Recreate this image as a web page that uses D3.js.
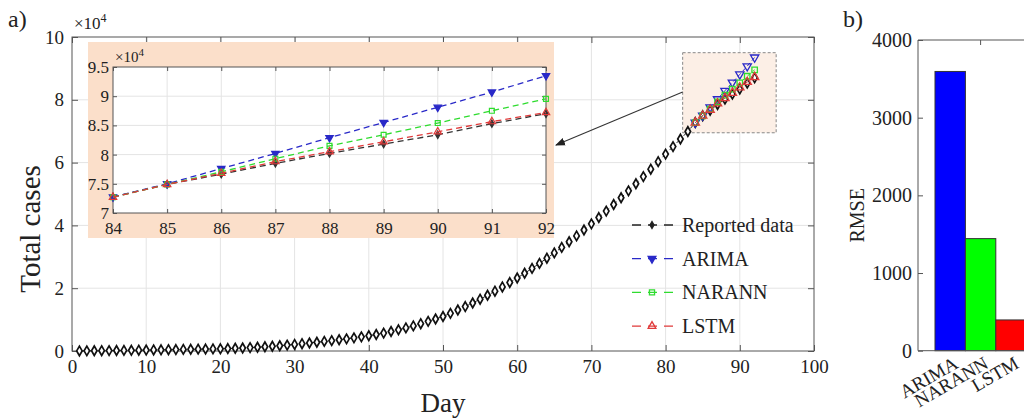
<!DOCTYPE html>
<html>
<head>
<meta charset="utf-8">
<script src="https://cdn.jsdelivr.net/npm/d3@7"></script>
<style>
  body { margin: 0; background: #fff; }
  text { font-family: "Liberation Serif", "Times New Roman", serif; fill: #222; }
</style>
</head>
<body>
<svg id="chart" width="1024" height="419"></svg>
<script>
// ---- data ----
const reportedCases = [
  20, 40, 70, 100, 130, 160, 190, 220, 260, 300,
  340, 380, 420, 460, 500, 540, 580, 620, 660, 700,
  780, 870, 970, 1080, 1200, 1340, 1500, 1680, 1880, 2100,
  2330, 2560, 2800, 3050, 3300, 3580, 3870, 4180, 4500, 4850,
  5250, 5700, 6200, 6750, 7350, 8000, 8700, 9450, 10200, 11000,
  12000, 13050, 14150, 15300, 16500, 17750, 19050, 20400, 21800, 23250,
  24750, 26300, 27900, 29550, 31250, 33000, 34800, 36650, 38550, 40500,
  42500, 44550, 46650, 48800, 51000, 53250, 55550, 57900, 60300, 62700,
  65100, 67500, 69900, 72750, 74900, 76650, 78500, 80200, 81800, 83400,
  85300, 87000
];
const forecastDays = [84, 85, 86, 87, 88, 89, 90, 91, 92];
const arimaCases  = [72750, 75000, 77600, 80200, 82900, 85500, 88100, 90700, 93500];
const narannCases = [72700, 74900, 77050, 79300, 81500, 83400, 85400, 87500, 89550];
const lstmCases   = [72700, 74900, 76800, 78800, 80500, 82200, 83900, 85650, 87200];

const xTicksMain = [0, 10, 20, 30, 40, 50, 60, 70, 80, 90, 100];
const yTicksMain = [0, 20000, 40000, 60000, 80000, 100000];
const xTicksInset = [84, 85, 86, 87, 88, 89, 90, 91, 92];
const yTicksInset = [70000, 75000, 80000, 85000, 90000, 95000];

const models = ["ARIMA", "NARANN", "LSTM"];
const rmse = [3595, 1443, 396];
const yTicksBar = [0, 1000, 2000, 3000, 4000];

// zoom window shown in the main panel (data units)
const zoomWindow = { d0: 82.3, d1: 94.9, v0: 69500, v1: 95000 };

const reported = reportedCases.map((v, i) => ({ day: i + 1, v }));
const series = [
  { name: "ARIMA",  color: "#2929c8", shape: "down",   values: arimaCases },
  { name: "NARANN", color: "#2fdc2f", shape: "square", values: narannCases },
  { name: "LSTM",   color: "#e03a3a", shape: "up",     values: lstmCases }
];

const svg = d3.select("#chart");
const serif = "Liberation Serif";
const gridColor = "#e4e4e4";
const axisColor = "#555";

function symbolPath(shape, size) {
  if (shape === "diamond") return d3.symbol(d3.symbolDiamond, size)();
  if (shape === "square") return d3.symbol(d3.symbolSquare, size)();
  return d3.symbol(d3.symbolTriangle, size)();
}
function symbolRotate(shape) { return shape === "down" ? " rotate(180)" : ""; }

// ---- main panel ----
const m = { left: 72, right: 814, top: 37, bottom: 351 };
const x = d3.scaleLinear().domain([0, 100]).range([m.left, m.right]);
const y = d3.scaleLinear().domain([0, 100000]).range([m.bottom, m.top]);

const main = svg.append("g");
main.append("rect").attr("x", m.left).attr("y", m.top)
  .attr("width", m.right - m.left).attr("height", m.bottom - m.top).attr("fill", "#fff");

// grid
main.append("g").selectAll("line").data(xTicksMain.slice(1, -1)).join("line")
  .attr("x1", d => x(d)).attr("x2", d => x(d)).attr("y1", m.top).attr("y2", m.bottom)
  .attr("stroke", gridColor);
main.append("g").selectAll("line").data(yTicksMain.slice(1, -1)).join("line")
  .attr("y1", d => y(d)).attr("y2", d => y(d)).attr("x1", m.left).attr("x2", m.right)
  .attr("stroke", gridColor);

function styleAxis(g) {
  g.attr("font-family", serif);
  g.select(".domain").remove();
  g.selectAll(".tick line").attr("stroke", axisColor);
  g.selectAll("text").attr("fill", "#222");
}

main.append("g").attr("transform", `translate(0,${m.bottom})`)
  .call(d3.axisBottom(x).tickValues(xTicksMain).tickSize(-6).tickPadding(9))
  .call(styleAxis).selectAll("text").style("font-size", "19px");
main.append("g").attr("transform", `translate(0,${m.top})`)
  .call(d3.axisTop(x).tickValues(xTicksMain).tickSize(-6).tickFormat(""))
  .call(styleAxis);
main.append("g").attr("transform", `translate(${m.left},0)`)
  .call(d3.axisLeft(y).tickValues(yTicksMain).tickSize(-6).tickPadding(8).tickFormat(d => d / 1e4))
  .call(styleAxis).selectAll("text").style("font-size", "19px");
main.append("g").attr("transform", `translate(${m.right},0)`)
  .call(d3.axisRight(y).tickValues(yTicksMain).tickSize(-6).tickFormat(""))
  .call(styleAxis);

main.append("rect").attr("x", m.left).attr("y", m.top)
  .attr("width", m.right - m.left).attr("height", m.bottom - m.top)
  .attr("fill", "none").attr("stroke", axisColor);

// exponent label
const exp = main.append("text").attr("x", m.left + 2).attr("y", m.top - 8).style("font-size", "17px");
exp.append("tspan").text("×10");
exp.append("tspan").attr("dy", -7).style("font-size", "12px").text("4");

// zoom window
main.append("rect")
  .attr("x", x(zoomWindow.d0)).attr("y", y(zoomWindow.v1))
  .attr("width", x(zoomWindow.d1) - x(zoomWindow.d0))
  .attr("height", y(zoomWindow.v0) - y(zoomWindow.v1))
  .attr("fill", "#fcefe6").attr("stroke", "#888").attr("stroke-dasharray", "3,2");

// reported data
const line = d3.line().x(d => x(d.day)).y(d => y(d.v));
main.append("path").datum(reported).attr("d", line)
  .attr("fill", "none").attr("stroke", "#222").attr("stroke-width", 1).attr("stroke-dasharray", "6,4");
main.append("g").selectAll("path").data(reported).join("path")
  .attr("d", symbolPath("diamond", 26))
  .attr("transform", d => `translate(${x(d.day)},${y(d.v)})`)
  .attr("fill", "#fff").attr("stroke", "#111").attr("stroke-width", 1.7);

// forecasts in the main panel
series.forEach(s => {
  const pts = forecastDays.map((d, i) => ({ day: d, v: s.values[i] }));
  main.append("path").datum(pts).attr("d", line)
    .attr("fill", "none").attr("stroke", s.color).attr("stroke-width", 1).attr("stroke-dasharray", "4,3");
  main.append("g").selectAll("path").data(pts).join("path")
    .attr("d", symbolPath(s.shape, 30))
    .attr("transform", d => `translate(${x(d.day)},${y(d.v)})${symbolRotate(s.shape)}`)
    .attr("fill", "none").attr("stroke", s.color).attr("stroke-width", 1.3);
});

// axis titles and panel tag
svg.append("text").attr("x", 443).attr("y", 412).attr("text-anchor", "middle")
  .style("font-size", "27px").text("Day");
svg.append("text").attr("transform", "translate(40,229) rotate(-90)").attr("text-anchor", "middle")
  .style("font-size", "29px").text("Total cases");
svg.append("text").attr("x", 8).attr("y", 27).style("font-size", "24px").text("a)");

// legend
const legend = main.append("g");
const legendItems = [{ name: "Reported data", color: "#222", shape: "diamond", fill: "#222" }]
  .concat(series.map(s => ({ name: s.name, color: s.color, shape: s.shape,
    fill: s.shape === "down" ? s.color : "none" })));
legendItems.forEach((d, i) => {
  const ly = 225 + i * 33.7;
  legend.append("line").attr("x1", 632).attr("x2", 673).attr("y1", ly).attr("y2", ly)
    .attr("stroke", d.color).attr("stroke-width", 1.3).attr("stroke-dasharray", "9,7");
  legend.append("path").attr("d", symbolPath(d.shape, d.shape === "diamond" ? 14 : 26))
    .attr("transform", `translate(652,${ly})${symbolRotate(d.shape)}`)
    .attr("fill", d.fill).attr("stroke", d.color).attr("stroke-width", 1.3);
  legend.append("text").attr("x", 682).attr("y", ly + 7).style("font-size", "20px").text(d.name);
});

// ---- inset ----
const ins = { left: 113, right: 546, top: 67, bottom: 213 };
const xi = d3.scaleLinear().domain([84, 92]).range([ins.left, ins.right]);
const yi = d3.scaleLinear().domain([70000, 95000]).range([ins.bottom, ins.top]);
const inset = svg.append("g");
inset.append("rect").attr("x", 88).attr("y", 42).attr("width", 466).attr("height", 196).attr("fill", "#fbdfca");
inset.append("rect").attr("x", ins.left).attr("y", ins.top)
  .attr("width", ins.right - ins.left).attr("height", ins.bottom - ins.top).attr("fill", "#fff");
inset.append("g").selectAll("line").data(xTicksInset.slice(1, -1)).join("line")
  .attr("x1", d => xi(d)).attr("x2", d => xi(d)).attr("y1", ins.top).attr("y2", ins.bottom)
  .attr("stroke", gridColor);
inset.append("g").selectAll("line").data(yTicksInset.slice(1, -1)).join("line")
  .attr("y1", d => yi(d)).attr("y2", d => yi(d)).attr("x1", ins.left).attr("x2", ins.right)
  .attr("stroke", gridColor);
inset.append("g").attr("transform", `translate(0,${ins.bottom})`)
  .call(d3.axisBottom(xi).tickValues(xTicksInset).tickSize(-4).tickPadding(9))
  .call(styleAxis).selectAll("text").style("font-size", "17px");
inset.append("g").attr("transform", `translate(0,${ins.top})`)
  .call(d3.axisTop(xi).tickValues(xTicksInset).tickSize(-4).tickFormat(""))
  .call(styleAxis);
inset.append("g").attr("transform", `translate(${ins.left},0)`)
  .call(d3.axisLeft(yi).tickValues(yTicksInset).tickSize(-4).tickPadding(4).tickFormat(d => d / 1e4))
  .call(styleAxis).selectAll("text").style("font-size", "17px");
inset.append("g").attr("transform", `translate(${ins.right},0)`)
  .call(d3.axisRight(yi).tickValues(yTicksInset).tickSize(-4).tickFormat(""))
  .call(styleAxis);
inset.append("rect").attr("x", ins.left).attr("y", ins.top)
  .attr("width", ins.right - ins.left).attr("height", ins.bottom - ins.top)
  .attr("fill", "none").attr("stroke", axisColor);
const expi = inset.append("text").attr("x", ins.left + 2).attr("y", ins.top - 5).style("font-size", "15px");
expi.append("tspan").text("×10");
expi.append("tspan").attr("dy", -6).style("font-size", "11px").text("4");

const lineI = d3.line().x(d => xi(d.day)).y(d => yi(d.v));
const insetSeries = [{ name: "Reported data", color: "#333", shape: "diamond",
  values: forecastDays.map(d => reportedCases[d - 1]) }].concat(series);
insetSeries.forEach(s => {
  const pts = forecastDays.map((d, i) => ({ day: d, v: s.values[i] }));
  inset.append("path").datum(pts).attr("d", lineI)
    .attr("fill", "none").attr("stroke", s.color).attr("stroke-width", 1.3).attr("stroke-dasharray", "6,4");
  inset.append("g").selectAll("path").data(pts).join("path")
    .attr("d", symbolPath(s.shape, s.shape === "diamond" ? 16 : 24))
    .attr("transform", d => `translate(${xi(d.day)},${yi(d.v)})${symbolRotate(s.shape)}`)
    .attr("fill", s.shape === "diamond" ? "#333" : (s.shape === "down" ? s.color : "none"))
    .attr("stroke", s.color).attr("stroke-width", 1.2);
});

// arrow from zoom window to inset
const defs = svg.append("defs");
defs.append("marker").attr("id", "arrow").attr("viewBox", "0 0 10 10")
  .attr("refX", 9).attr("refY", 5).attr("markerWidth", 9).attr("markerHeight", 9)
  .attr("orient", "auto").append("path").attr("d", "M0,1 L10,5 L0,9 Z").attr("fill", "#222");
svg.append("line")
  .attr("x1", x(zoomWindow.d0)).attr("y1", y(82500))
  .attr("x2", 556).attr("y2", 145)
  .attr("stroke", "#333").attr("stroke-width", 1.1).attr("marker-end", "url(#arrow)");

// ---- panel b: RMSE bars ----
const b = { left: 918, right: 1060, top: 40, bottom: 350.7 };
const xb = d3.scaleBand().domain(models).range([935, 1026.2]).padding(0);
const yb = d3.scaleLinear().domain([0, 4000]).range([b.bottom, b.top]);
const bar = svg.append("g");
bar.append("g").attr("transform", `translate(${b.left},0)`)
  .call(d3.axisLeft(yb).tickValues(yTicksBar).tickSize(-5).tickPadding(6).tickFormat(d3.format("d")))
  .call(styleAxis).selectAll("text").style("font-size", "20px");
bar.append("g").attr("transform", `translate(0,${b.top})`)
  .call(d3.axisTop(xb).tickValues([models[1]]).tickSize(-5).tickFormat(""))
  .call(styleAxis);
const barColors = ["#0000ff", "#00ff00", "#ff0000"];
bar.append("g").selectAll("rect").data(models).join("rect")
  .attr("x", d => xb(d)).attr("width", xb.bandwidth())
  .attr("y", (d, i) => yb(rmse[i])).attr("height", (d, i) => yb(0) - yb(rmse[i]))
  .attr("fill", (d, i) => barColors[i]).attr("stroke", "#333").attr("stroke-width", 1);
bar.append("line").attr("x1", b.left).attr("x2", b.left).attr("y1", b.top).attr("y2", b.bottom).attr("stroke", axisColor);
bar.append("line").attr("x1", b.left).attr("x2", b.right).attr("y1", b.bottom).attr("y2", b.bottom).attr("stroke", axisColor);
bar.append("line").attr("x1", b.left).attr("x2", b.right).attr("y1", b.top).attr("y2", b.top).attr("stroke", axisColor);
bar.append("g").selectAll("text").data(models).join("text")
  .attr("transform", d => `translate(${xb(d) + xb.bandwidth() / 2 + 2},${b.bottom + 4}) rotate(-30)`)
  .attr("text-anchor", "end").attr("dy", "0.75em").style("font-size", "19px").text(d => d);
svg.append("text").attr("transform", `translate(864,${(b.top + b.bottom) / 2 + 20}) rotate(-90)`)
  .attr("text-anchor", "middle").style("font-size", "20px").text("RMSE");
svg.append("text").attr("x", 843).attr("y", 27).style("font-size", "24px").text("b)");
</script>
</body>
</html>
